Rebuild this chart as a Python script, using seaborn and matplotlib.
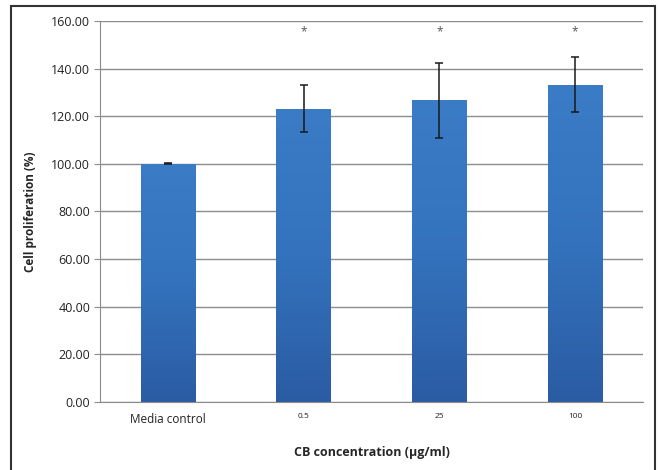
import numpy as np
import pandas as pd
import seaborn as sns
import matplotlib.pyplot as plt
from matplotlib.patches import Rectangle
from matplotlib.colors import LinearSegmentedColormap

groups = ['Media control', '0.5', '25', '100']
proliferation = [100.0, 123.2, 126.7, 133.3]
errors = [0.2, 10.0, 15.7, 11.6]
significant = [False, True, True, True]

df = pd.DataFrame({'group': groups, 'value': proliferation, 'err': errors})

sns.set_style('white')
plt.rcParams['font.family'] = ['Open Sans', 'DejaVu Sans']

fig = plt.figure(figsize=(6.59, 4.70), dpi=100)
ax = fig.add_axes([0.1517, 0.1447, 0.824, 0.8106])

sns.barplot(x='group', y='value', data=df, color='#3470bb', saturation=1,
            width=0.4, errorbar=None, linewidth=0, ax=ax)

# vertical blue gradient on each bar, like the office chart fill
grad = LinearSegmentedColormap.from_list('bar', ['#2a5ca3', '#3472bd', '#3b7cc6'])
for bar in ax.patches:
    x0, y0 = bar.get_x(), bar.get_y()
    w, h = bar.get_width(), bar.get_height()
    img = ax.imshow(np.linspace(0, 1, 256).reshape(-1, 1), cmap=grad, aspect='auto',
                    origin='lower', extent=[x0, x0 + w, y0, y0 + h], zorder=bar.get_zorder())
    img.set_clip_path(bar)

ax.errorbar(range(len(groups)), df['value'], yerr=df['err'], fmt='none',
            ecolor='#1a1a1a', elinewidth=1.1, capsize=3, capthick=1.1, zorder=5)

for i, sig in enumerate(significant):
    if sig:
        ax.text(i, 155.5, '*', ha='center', va='center', fontsize=8.5, color='#555555')

ax.set_ylim(0, 160)
ax.set_xlim(-0.5, len(groups) - 0.5)
ax.set_yticks(range(0, 161, 20))
ax.set_yticklabels([f'{v:.2f}' for v in range(0, 161, 20)], fontsize=9, color='#222222')
ax.yaxis.grid(True, color='#8c8c8c', linewidth=1)
ax.set_axisbelow(True)

# category labels: first one larger, concentrations small
ax.set_xticks(range(len(groups)))
ax.set_xticklabels(groups)
for i, lab in enumerate(ax.get_xticklabels()):
    lab.set_fontsize(8.5 if i == 0 else 6)
    lab.set_color('#222222')
ax.tick_params(axis='x', length=0, pad=8)
ax.set_xticks([i + 0.5 for i in range(-1, len(groups))], minor=True)
ax.tick_params(axis='x', which='minor', direction='out', length=4, color='#8c8c8c')
ax.tick_params(axis='y', direction='out', length=4, color='#8c8c8c', left=True, pad=3)

for s in ['top', 'right']:
    ax.spines[s].set_visible(False)
ax.spines['left'].set_color('#8c8c8c')
ax.spines['bottom'].set_color('#8c8c8c')

ax.set_xlabel('CB concentration (µg/ml)', fontsize=9, fontweight='bold', labelpad=14)
ax.set_ylabel('Cell proliferation (%)', fontsize=8.5, fontweight='bold', labelpad=10)

fig.patches.append(Rectangle((11 / 659, -0.1), (655 - 11) / 659, 1.1 - 6 / 470,
                             transform=fig.transFigure, fill=False,
                             edgecolor='#333333', linewidth=1.5))

plt.savefig('out.png', dpi=100)
